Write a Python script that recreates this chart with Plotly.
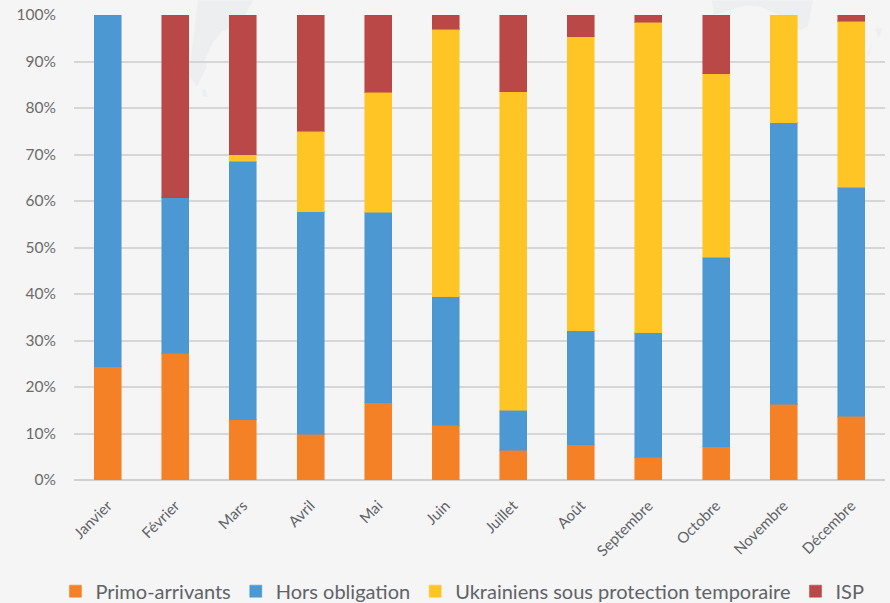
import plotly.graph_objects as go

months = ["Janvier", "Février", "Mars", "Avril", "Mai", "Juin", "Juillet", "Août",
          "Septembre", "Octobre", "Novembre", "Décembre"]
primo = [24.4, 27.3, 13.0, 9.8, 16.6, 11.8, 6.4, 7.6, 4.9, 7.2, 16.3, 13.7]
hors = [75.6, 33.4, 55.6, 47.9, 41.0, 27.6, 8.6, 24.5, 26.8, 40.7, 60.5, 49.3]
ukr = [None, None, 1.4, 17.3, 25.8, 57.5, 68.5, 63.2, 66.7, 39.5, 23.2, 35.7]
isp = [None, 39.3, 30.0, 25.0, 16.6, 3.1, 16.5, 4.7, 1.6, 12.6, None, 1.3]
y_ticks = list(range(0, 101, 10))
y_labels = [f"{v}%" for v in y_ticks]

series = [
    ("Primo-arrivants", primo, "#F58126", "rgba(245,129,38,0.55)"),
    ("Hors obligation", hors, "#4C98D3", "rgba(76,152,211,0.55)"),
    ("Ukrainiens sous protection temporaire", ukr, "#FFC524", "rgba(255,197,36,0.55)"),
    ("ISP", isp, "#B94846", "rgba(185,72,70,0.55)"),
]

# Faint world-map watermark behind the chart (page pixel outlines)
watermark = [
    [(198, 0), (190, 65), (189, 75), (197, 87), (207, 66), (205, 60), (213, 42), (222, 31), (240, 24), (253, 0)],
    [(202, 90), (205, 89), (208, 97), (203, 96)],
    [(712, 0), (714, 14), (722, 12), (745, 5), (760, 6), (785, 17), (800, 30), (808, 26), (813, 0)],
    [(875, 28), (883, 28), (878, 38)],
    [(867, 54), (872, 42), (869, 56)],
]

fig = go.Figure()
for name, vals, col, edge in series:
    fig.add_bar(name=name, x=months, y=vals, width=0.4,
                marker=dict(color=col, line=dict(color=edge, width=1)))

fig.update_layout(
    width=890, height=603, barmode="stack", autosize=False,
    paper_bgcolor="#F5F5F5", plot_bgcolor="rgba(0,0,0,0)",
    margin=dict(l=74, r=5, t=14.5, b=122.5),
    font=dict(family="Lato", color="#5F6368"),
    legend=dict(orientation="h", x=0.479, xanchor="center", xref="paper",
                y=0.052, yanchor="top", yref="container",
                font=dict(family="Lato", size=20, color="#5F6368"),
                traceorder="normal", itemwidth=30, tracegroupgap=0),
    xaxis=dict(tickangle=-45, tickfont=dict(family="Lato", size=15, color="#5F6368"),
               showgrid=False, showline=False, zeroline=False, ticks="outside", ticklen=10,
               tickcolor="rgba(0,0,0,0)", automargin=False),
    yaxis=dict(range=[0, 100], tickmode="array", tickvals=y_ticks, ticktext=y_labels,
               tickfont=dict(family="Lato", size=15.5, color="#6B6B6B"),
               showgrid=True, gridcolor="#D6D6D6", gridwidth=1.5,
               zeroline=True, zerolinecolor="#D0D0D0", zerolinewidth=1.5,
               showline=False, ticks="outside", ticklen=14, tickcolor="rgba(0,0,0,0)",
               automargin=False),
)
# paper coordinates relative to the plot area
L, B, PW, PH = 74.0, 480.5, 811.0, 466.0
for pts in watermark:
    path = "M" + " L".join(f"{(px - L) / PW:.4f},{(B - py) / PH:.4f}" for px, py in pts) + " Z"
    fig.add_shape(type="path", xref="paper", yref="paper", layer="below",
                  path=path, fillcolor="#ECEEF0", line=dict(width=0))

fig.write_html("out.html", config={"displayModeBar": False},
               post_script="document.body.style.margin='0';document.documentElement.style.background='#F5F5F5';document.body.style.overflow='hidden';window.dispatchEvent(new Event('resize'));")
